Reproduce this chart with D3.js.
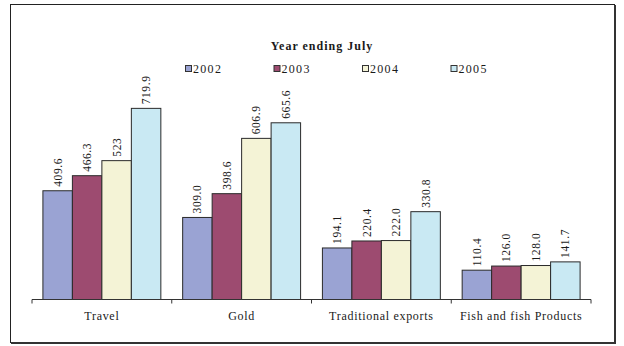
<!DOCTYPE html>
<html>
<head>
<meta charset="utf-8">
<script src="https://cdn.jsdelivr.net/npm/d3@7"></script>
<style>
  html, body { margin: 0; padding: 0; background: #fff; }
  svg { display: block; }
  text { font-family: "Liberation Serif", "Times New Roman", serif; fill: #1a1a1a; }
</style>
</head>
<body>
<svg id="chart" width="624" height="346"></svg>
<script>
// Export earnings by category, year ending July
const categories = ["Travel", "Gold", "Traditional exports", "Fish and fish Products"];
const years = ["2002", "2003", "2004", "2005"];
const v2002 = ["409.6", "309.0", "194.1", "110.4"];
const v2003 = ["466.3", "398.6", "220.4", "126.0"];
const v2004 = ["523", "606.9", "222.0", "128.0"];
const v2005 = ["719.9", "665.6", "330.8", "141.7"];
const colors = ["#9aa3d3", "#9d4b70", "#f4f3d6", "#c9e9f3"];
const legendTitle = "Year ending July";

const series = [v2002, v2003, v2004, v2005];

const svg = d3.select("#chart");

// outer frame with a heavier right/bottom edge
svg.append("rect").attr("x", 10.5).attr("y", 4.5).attr("width", 604).attr("height", 338)
  .attr("fill", "#fff").attr("stroke", "#222").attr("stroke-width", 1);
svg.append("line").attr("x1", 615).attr("x2", 615).attr("y1", 5).attr("y2", 344)
  .attr("stroke", "#333").attr("stroke-width", 2);
svg.append("line").attr("x1", 11).attr("x2", 616).attr("y1", 343).attr("y2", 343)
  .attr("stroke", "#333").attr("stroke-width", 2);

const x0 = d3.scaleBand().domain(categories).range([32, 591]).paddingInner(0).paddingOuter(0);
const x1 = d3.scaleBand().domain(years).range([0, x0.bandwidth()]).paddingInner(0).paddingOuter(0.37);
const y = d3.scaleLinear().domain([0, 1000]).range([299.5, 34]);

// bars
const groups = svg.append("g").selectAll("g")
  .data(categories)
  .join("g")
  .attr("transform", d => `translate(${x0(d)},0)`);

const cells = groups.selectAll("g")
  .data((c, ci) => years.map((yr, si) => ({ yr, si, label: series[si][ci], value: +series[si][ci] })))
  .join("g");

cells.append("rect")
  .attr("x", d => x1(d.yr))
  .attr("y", d => y(d.value))
  .attr("width", x1.bandwidth())
  .attr("height", d => y(0) - y(d.value))
  .attr("fill", d => colors[d.si])
  .attr("stroke", "#2a2a2a")
  .attr("stroke-width", 1);

cells.append("text")
  .attr("transform", d => `translate(${x1(d.yr) + x1.bandwidth() / 2 + 4},${y(d.value) - 4}) rotate(-90)`)
  .attr("text-anchor", "start")
  .style("font-size", "11.5px")
  .style("letter-spacing", "0.6px")
  .text(d => d.label);

// category axis
const axis = svg.append("g").attr("transform", `translate(0,${y(0)})`);
axis.append("line").attr("x1", 32).attr("x2", 591).attr("y1", 0).attr("y2", 0)
  .attr("stroke", "#333").attr("stroke-width", 1);
const boundaries = categories.map(c => x0(c)).concat([x0.range()[1]]);
axis.selectAll("line.tick").data(boundaries).join("line")
  .attr("class", "tick")
  .attr("x1", d => d).attr("x2", d => d).attr("y1", 0).attr("y2", 4)
  .attr("stroke", "#333");
const catAxis = d3.axisBottom(x0).tickSize(0).tickPadding(12);
const ax = svg.append("g").attr("transform", `translate(0,${y(0)})`).call(catAxis);
ax.select(".domain").remove();
ax.selectAll("text")
  .style("font-size", "12px")
  .style("letter-spacing", "0.7px")
  .style("font-family", "'Liberation Serif', 'Times New Roman', serif")
  .attr("fill", "#1a1a1a");

// legend
svg.append("text").attr("x", 322).attr("y", 50).attr("text-anchor", "middle")
  .style("font-size", "12px").style("font-weight", "bold").style("letter-spacing", "1px")
  .text(legendTitle);

const legend = svg.append("g").selectAll("g").data(years).join("g")
  .attr("transform", (d, i) => `translate(${185 + i * 88.5},0)`);
legend.append("rect").attr("x", 0.5).attr("y", 65.5).attr("width", 6).attr("height", 6)
  .attr("fill", (d, i) => colors[i]).attr("stroke", "#333").attr("stroke-width", 1);
legend.append("text").attr("x", 8).attr("y", 72.5)
  .style("font-size", "12px").style("letter-spacing", "1.3px")
  .text(d => d);
</script>
</body>
</html>
